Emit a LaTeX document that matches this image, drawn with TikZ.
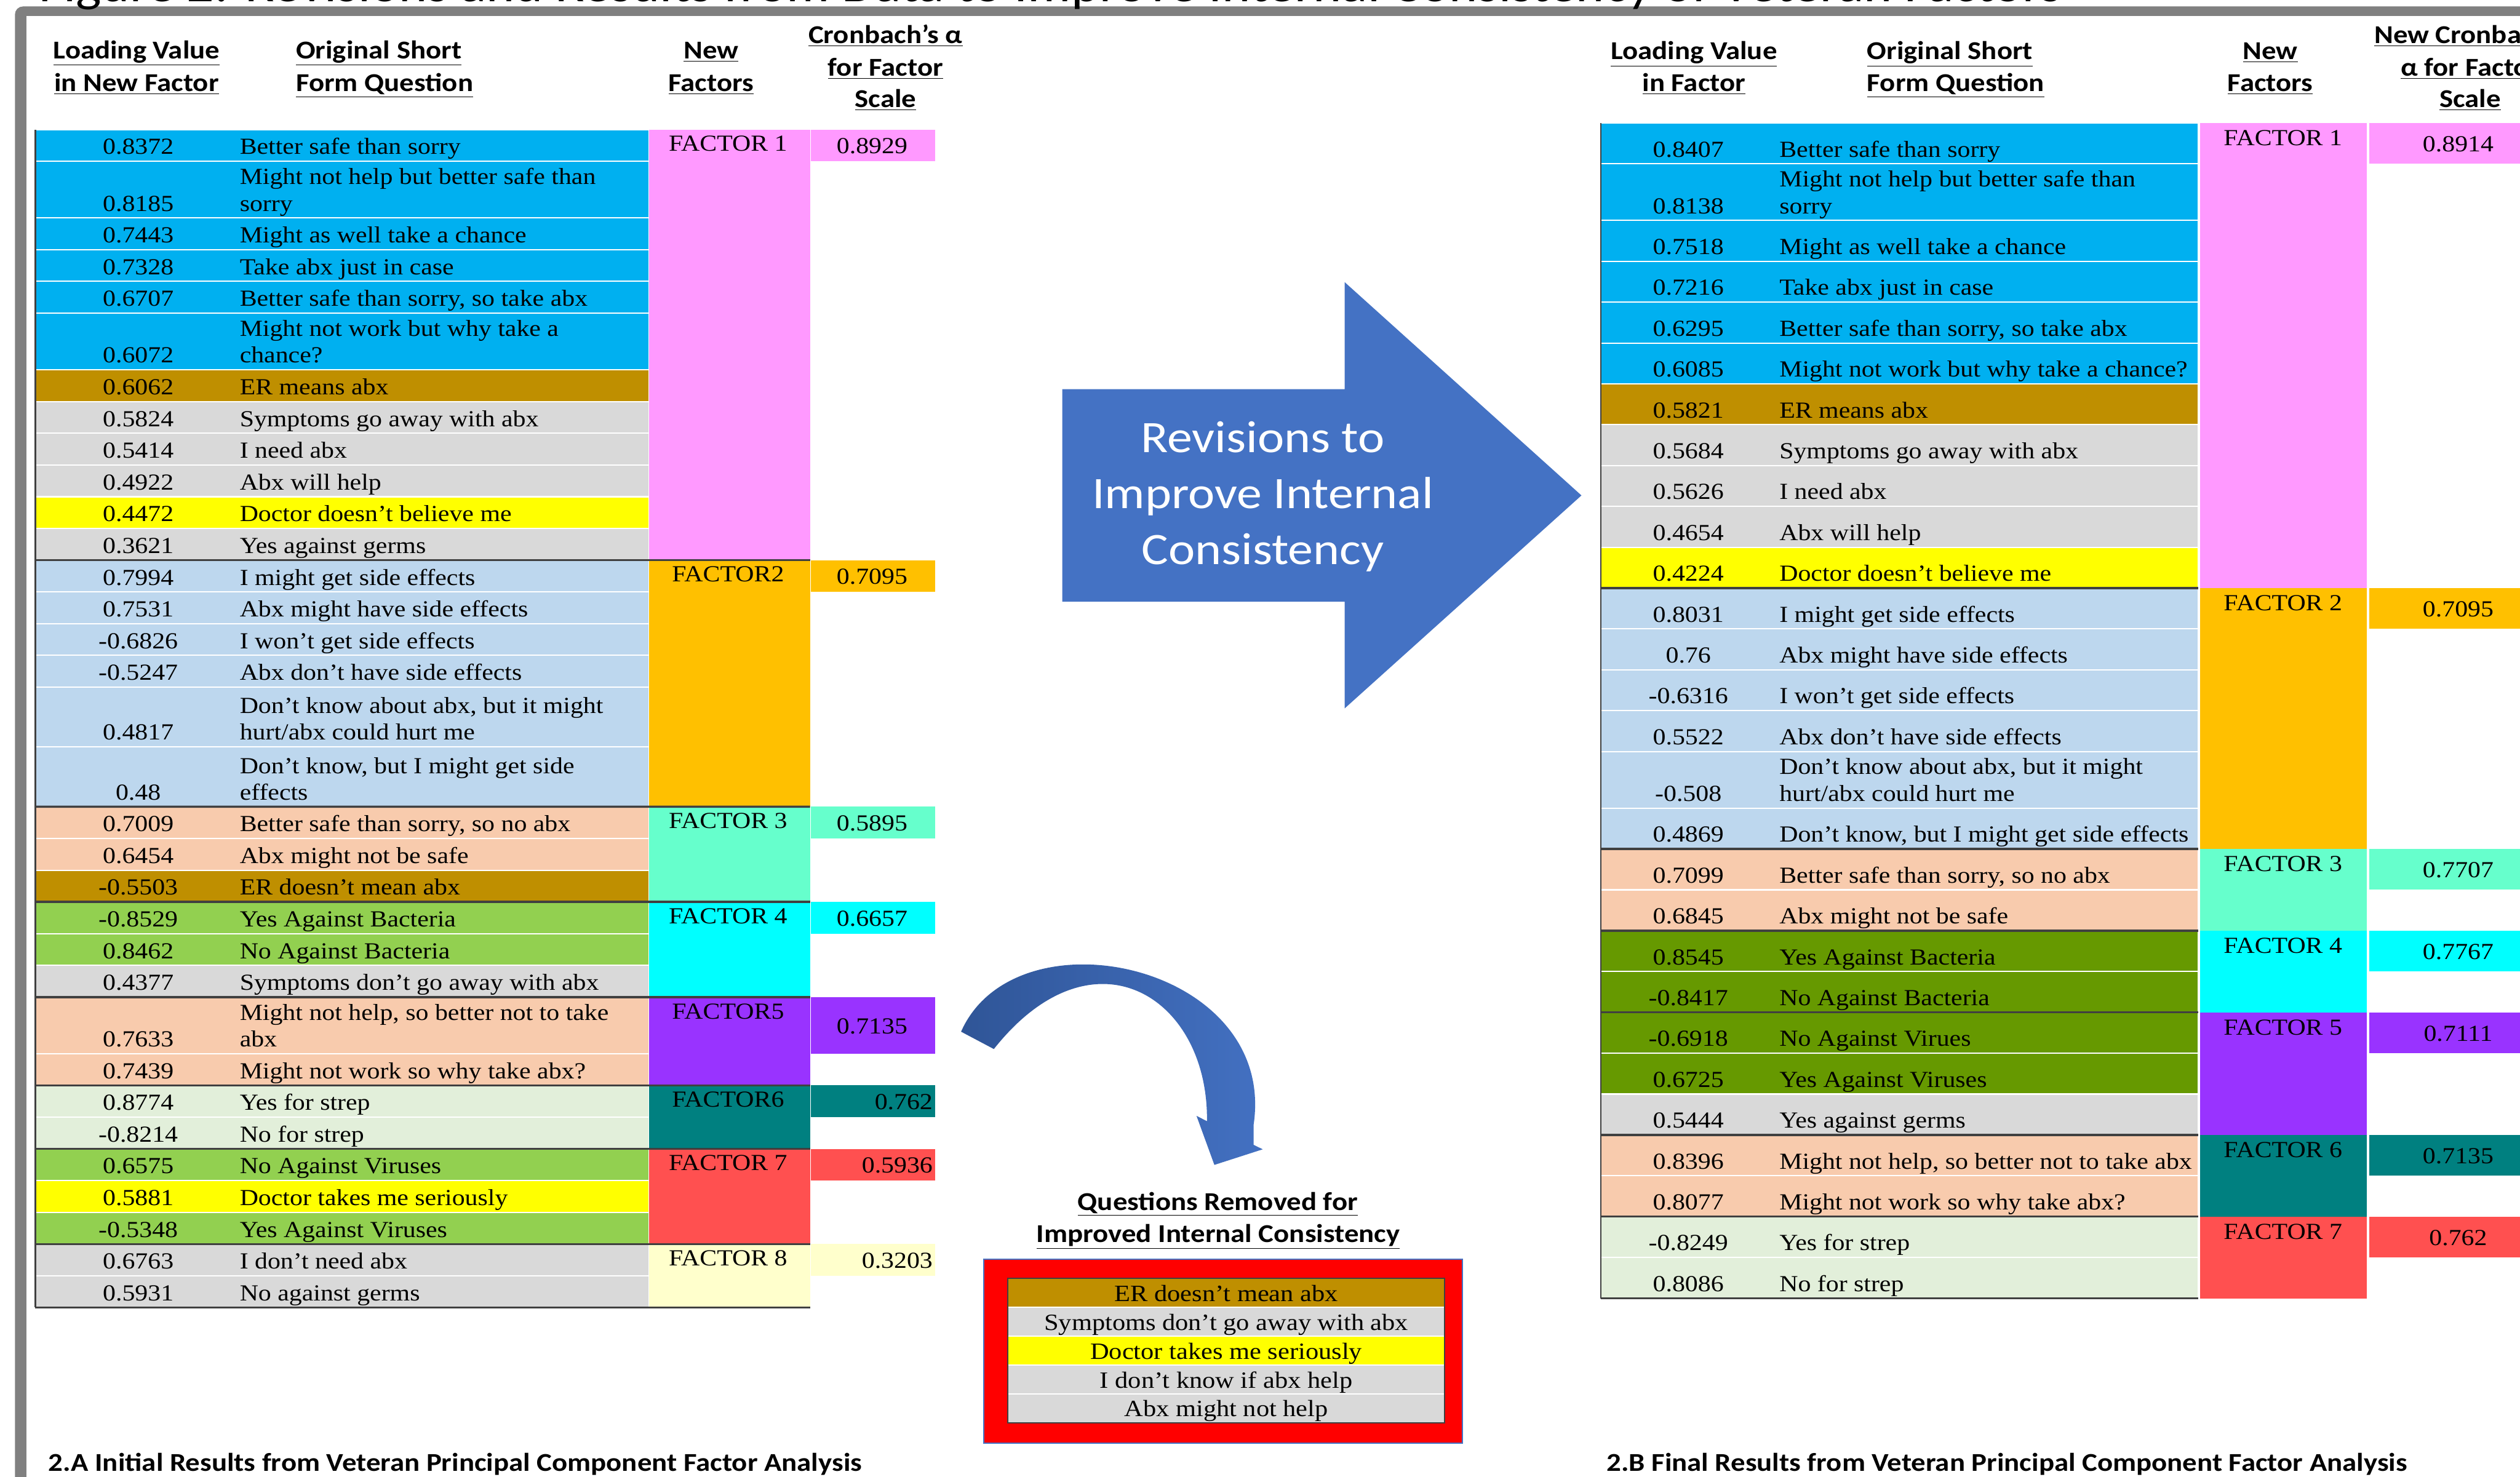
\documentclass[tikz,border=0pt]{standalone}
\usepackage{fontspec}
\setmainfont{Liberation Serif}[FakeStretch=1.12]
\newfontfamily\calib{Carlito}[FakeStretch=1.12]

\definecolor{framegray}{RGB}{128,128,128}
\definecolor{edgegray}{RGB}{64,64,64}
\definecolor{rowblue}{RGB}{0,176,240}
\definecolor{rowgold}{RGB}{191,143,0}
\definecolor{rowgray}{RGB}{217,217,217}
\definecolor{rowyellow}{RGB}{255,255,0}
\definecolor{rowsky}{RGB}{189,215,238}
\definecolor{rowpeach}{RGB}{248,203,173}
\definecolor{rowgreen}{RGB}{146,208,80}
\definecolor{rowolive}{RGB}{102,153,0}
\definecolor{rowmint}{RGB}{226,239,218}
\definecolor{facpink}{RGB}{255,153,255}
\definecolor{facorange}{RGB}{255,192,0}
\definecolor{facaqua}{RGB}{102,255,204}
\definecolor{faccyan}{RGB}{0,255,255}
\definecolor{facpurple}{RGB}{153,51,255}
\definecolor{facteal}{RGB}{0,128,128}
\definecolor{facred}{RGB}{255,80,80}
\definecolor{faccream}{RGB}{255,255,204}
\definecolor{arrowblue}{RGB}{68,114,196}
\definecolor{arrowdark}{RGB}{47,85,151}
\definecolor{boxred}{RGB}{255,0,0}

\begin{document}
\begin{tikzpicture}
        [x=1pt, y=-1pt,
        rowcell/.style={rectangle, inner sep=0pt, outer sep=0pt, anchor=north west, draw=white, line width=0.8pt},
        valtxt/.style={inner sep=0pt, anchor=base, font=\fontsize{14.3}{16.5}\selectfont},
        qtxt/.style={inner sep=0pt, anchor=base west, font=\fontsize{14.3}{16.5}\selectfont},
        factxt/.style={inner sep=0pt, anchor=base, font=\fontsize{14.3}{16.5}\selectfont},
        cronb/.style={inner sep=0pt, font=\fontsize{14.3}{16.5}\selectfont},
        rmtxt/.style={inner sep=0pt, anchor=base, font=\fontsize{14.5}{16.5}\selectfont},
        headtxt/.style={inner sep=0pt, anchor=base, font=\calib\bfseries\fontsize{16}{19}\selectfont},
        grpline/.style={draw=edgegray, line width=1.3pt},
        edge/.style={draw=edgegray, line width=0.8pt}]

        \useasboundingbox (0,0) rectangle (1568,919);
        \clip (0,0) rectangle (1568,919);

        % frame
        \fill[framegray, rounded corners=5pt] (9.3,4) rectangle (1600,1000);
        \fill[white] (16.5,10) rectangle (1600,1000);
        \node[inner sep=0pt, anchor=base west, font=\calib\fontsize{30}{33}\selectfont] (title) at (24,0.8)
            {Figure 2: Revisions and Results from Data to Improve Internal Consistency of Veteran Factors};

        % headers of the first table
        \node[headtxt] (hla1) at (85,36.4) {\underline{Loading Value}};
        \node[headtxt] (hla2) at (85,57) {\underline{in New Factor}};
        \node[headtxt, anchor=base west] (hlb1) at (184,36.4) {\underline{Original Short}};
        \node[headtxt, anchor=base west] (hlb2) at (184,57) {\underline{Form Question}};
        \node[headtxt] (hlc1) at (442.5,36.4) {\underline{New}};
        \node[headtxt] (hlc2) at (442.5,57) {\underline{Factors}};
        \node[headtxt] (hld1) at (551,27) {\underline{Cronbach’s α}};
        \node[headtxt] (hld2) at (551,47.2) {\underline{for Factor}};
        \node[headtxt] (hld3) at (551,66.8) {\underline{Scale}};

        % rows of the first table
        \foreach \ro/\tp/\hh/\col/\val/\qu in {
            1/80.6/19.75/rowblue/0.8372/{Better safe than sorry},
            2/100.35/35.25/rowblue/0.8185/{sorry},
            3/135.6/19.75/rowblue/0.7443/{Might as well take a chance},
            4/155.35/19.75/rowblue/0.7328/{Take abx just in case},
            5/175.1/19.75/rowblue/0.6707/{Better safe than sorry, so take abx},
            6/194.85/35.25/rowblue/0.6072/{chance?},
            7/230.1/19.75/rowgold/0.6062/{ER means abx},
            8/249.85/19.75/rowgray/0.5824/{Symptoms go away with abx},
            9/269.6/19.75/rowgray/0.5414/{I need abx},
            10/289.35/19.75/rowgray/0.4922/{Abx will help},
            11/309.1/19.75/rowyellow/0.4472/{Doctor doesn't believe me},
            12/328.85/19.75/rowgray/0.3621/{Yes against germs},
            13/348.6/19.75/rowsky/0.7994/{I might get side effects},
            14/368.35/19.75/rowsky/0.7531/{Abx might have side effects},
            15/388.1/19.75/rowsky/-0.6826/{I won't get side effects},
            16/407.85/19.75/rowsky/-0.5247/{Abx don't have side effects},
            17/427.6/37.2/rowsky/0.4817/{hurt/abx could hurt me},
            18/464.8/37.2/rowsky/0.48/{effects},
            19/502/19.75/rowpeach/0.7009/{Better safe than sorry, so no abx},
            20/521.75/19.75/rowpeach/0.6454/{Abx might not be safe},
            21/541.5/19.75/rowgold/-0.5503/{ER doesn't mean abx},
            22/561.25/19.75/rowgreen/-0.8529/{Yes Against Bacteria},
            23/581/19.75/rowgreen/0.8462/{No Against Bacteria},
            24/600.75/19.75/rowgray/0.4377/{Symptoms don't go away with abx},
            25/620.5/35.15/rowpeach/0.7633/{abx},
            26/655.65/19.75/rowpeach/0.7439/{Might not work so why take abx?},
            27/675.4/19.75/rowmint/0.8774/{Yes for strep},
            28/695.15/19.75/rowmint/-0.8214/{No for strep},
            29/714.9/19.75/rowgreen/0.6575/{No Against Viruses},
            30/734.65/19.75/rowyellow/0.5881/{Doctor takes me seriously},
            31/754.4/19.75/rowgreen/-0.5348/{Yes Against Viruses},
            32/774.15/19.75/rowgray/0.6763/{I don't need abx},
            33/793.9/19.75/rowgray/0.5931/{No against germs}}
        {
            \node[rowcell, fill=\col, minimum width=382pt, minimum height=\hh*1pt] (lr\ro) at (22,\tp) {};
            \node[valtxt] (lv\ro) at (86,\tp+\hh-4.3) {\val};
            \node[qtxt] (lq\ro) at (149,\tp+\hh-4.3) {\qu};
        }
        \foreach \ro/\qu in {2/{Might not help but better safe than}, 6/{Might not work but why take a},
            17/{Don't know about abx, but it might}, 18/{Don't know, but I might get side},
            25/{Might not help, so better not to take}}
            \node[qtxt] (lqa\ro) at ([yshift=16.5pt]lq\ro.base west) {\qu};

        % factor and alpha columns of the first table
        \foreach \ro/\tp/\hh/\col/\lab in {1/80.6/268/facpink/FACTOR 1, 2/348.6/153.4/facorange/FACTOR2,
            3/502/59.25/facaqua/FACTOR 3, 4/561.25/59.25/faccyan/FACTOR 4, 5/620.5/54.9/facpurple/FACTOR5,
            6/675.4/39.5/facteal/FACTOR6, 7/714.9/59.25/facred/FACTOR 7, 8/774.15/39.5/faccream/FACTOR 8}
        {
            \node[rowcell, draw=none, fill=\col, minimum width=100pt, minimum height=\hh*1pt] (lf\ro) at (404,\tp) {};
            \node[factxt] (lfl\ro) at (453,\tp+13.5) {\lab};
        }
        \foreach \ro/\tp/\hh/\col/\val/\xx/\an in {1/80.6/19.75/facpink/0.8929/542.6/center,
            2/348.6/19.75/facorange/0.7095/542.6/center, 3/502/19.75/facaqua/0.5895/542.6/center,
            4/561.25/19.75/faccyan/0.6657/542.6/center, 5/620.5/35.15/facpurple/0.7135/542.6/center,
            6/675.4/19.75/facteal/0.762/580.5/east, 7/714.9/19.75/facred/0.5936/580.5/east,
            8/774.15/19.75/faccream/0.3203/580.5/east}
        {
            \node[rowcell, draw=none, fill=\col, minimum width=77.5pt, minimum height=\hh*1pt] (la\ro) at (504.5,\tp) {};
            \node[cronb, anchor=\an] (lal\ro) at (\xx,\tp+\hh/2+0.5) {\val};
        }

        % group lines
        \foreach \ro/\fa in {12/1, 18/2, 21/3, 24/4, 26/5, 28/6, 31/7, 33/8}
            \draw[grpline] (lr\ro.south west) -- (lf\fa.south east);
        \draw[edge] (lr1.north west) -- (lr33.south west);

        % headers of the second table
        \node[headtxt] (hra1) at (1054,36.9) {\underline{Loading Value}};
        \node[headtxt] (hra2) at (1054,57) {\underline{in Factor}};
        \node[headtxt, anchor=base west] (hrb1) at (1161.6,36.9) {\underline{Original Short}};
        \node[headtxt, anchor=base west] (hrb2) at (1161.6,57) {\underline{Form Question}};
        \node[headtxt] (hrc1) at (1412.6,36.9) {\underline{New}};
        \node[headtxt] (hrc2) at (1412.6,57) {\underline{Factors}};
        \node[headtxt] (hrd1) at (1537,27) {\underline{New Cronbach’s}};
        \node[headtxt] (hrd2) at (1537,47.2) {\underline{α for Factor}};
        \node[headtxt] (hrd3) at (1537,66.8) {\underline{Scale}};

        % rows of the second table
        \foreach \ro/\tp/\hh/\col/\val/\qu in {
            1/76.5/25.42/rowblue/0.8407/{Better safe than sorry},
            2/101.92/35.25/rowblue/0.8138/{sorry},
            3/137.17/25.42/rowblue/0.7518/{Might as well take a chance},
            4/162.59/25.42/rowblue/0.7216/{Take abx just in case},
            5/188.01/25.42/rowblue/0.6295/{Better safe than sorry, so take abx},
            6/213.43/25.42/rowblue/0.6085/{Might not work but why take a chance?},
            7/238.85/25.42/rowgold/0.5821/{ER means abx},
            8/264.27/25.42/rowgray/0.5684/{Symptoms go away with abx},
            9/289.69/25.42/rowgray/0.5626/{I need abx},
            10/315.11/25.42/rowgray/0.4654/{Abx will help},
            11/340.53/25.42/rowyellow/0.4224/{Doctor doesn't believe me},
            12/365.95/25.42/rowsky/0.8031/{I might get side effects},
            13/391.37/25.42/rowsky/0.76/{Abx might have side effects},
            14/416.79/25.42/rowsky/-0.6316/{I won't get side effects},
            15/442.21/25.42/rowsky/0.5522/{Abx don't have side effects},
            16/467.63/35.25/rowsky/-0.508/{hurt/abx could hurt me},
            17/502.88/25.42/rowsky/0.4869/{Don't know, but I might get side effects},
            18/528.3/25.42/rowpeach/0.7099/{Better safe than sorry, so no abx},
            19/553.72/25.42/rowpeach/0.6845/{Abx might not be safe},
            20/579.14/25.42/rowolive/0.8545/{Yes Against Bacteria},
            21/604.56/25.42/rowolive/-0.8417/{No Against Bacteria},
            22/629.98/25.42/rowolive/-0.6918/{No Against Virues},
            23/655.4/25.42/rowolive/0.6725/{Yes Against Viruses},
            24/680.82/25.42/rowgray/0.5444/{Yes against germs},
            25/706.24/25.42/rowpeach/0.8396/{Might not help, so better not to take abx},
            26/731.66/25.42/rowpeach/0.8077/{Might not work so why take abx?},
            27/757.08/25.42/rowmint/-0.8249/{Yes for strep},
            28/782.5/25.42/rowmint/0.8086/{No for strep}}
        {
            \node[rowcell, fill=\col, minimum width=371.6pt, minimum height=\hh*1pt] (rr\ro) at (996,\tp) {};
            \node[valtxt] (rv\ro) at (1050.5,\tp+\hh-4.3) {\val};
            \node[qtxt] (rq\ro) at (1107,\tp+\hh-4.3) {\qu};
        }
        \foreach \ro/\qu in {2/{Might not help but better safe than}, 16/{Don't know about abx, but it might}}
            \node[qtxt] (rqa\ro) at ([yshift=16.7pt]rq\ro.base west) {\qu};

        % factor and alpha columns of the second table
        \foreach \ro/\tp/\hh/\col/\val in {1/76.5/289.45/facpink/0.8914, 2/365.95/162.35/facorange/0.7095,
            3/528.3/50.84/facaqua/0.7707, 4/579.14/50.84/faccyan/0.7767, 5/629.98/76.26/facpurple/0.7111,
            6/706.24/50.84/facteal/0.7135, 7/757.08/50.84/facred/0.762}
        {
            \node[rowcell, draw=none, fill=\col, minimum width=103.5pt, minimum height=\hh*1pt] (rf\ro) at (1369,\tp) {};
            \node[factxt] (rfl\ro) at (1420.5,\tp+14) {FACTOR \ro};
            \node[rowcell, draw=none, fill=\col, minimum width=111pt, minimum height=25.42pt] (ra\ro) at (1474,\tp) {};
            \node[cronb] (ral\ro) at (1529.5,\tp+13.2) {\val};
        }
        \foreach \ro in {11, 17, 19, 21, 24, 26, 28}
            \draw[grpline] (rr\ro.south west) -- (rr\ro.south east);
        \draw[edge] (rr1.north west) -- (rr28.south west);

        % big arrow
        \fill[arrowblue] (661,242.2) -- (836.7,242.2) -- (836.7,175.6) -- (984,308.3)
            -- (836.7,440.8) -- (836.7,374.4) -- (661,374.4) -- cycle;
        \node[align=center, text=white, inner sep=0pt, font=\calib\fontsize{28}{35}\selectfont] (revtxt)
            at (785.7,309) {Revisions to\\Improve Internal\\Consistency};

        % curved arrow
        \shade[left color=arrowdark, right color=arrowblue] (598,642) .. controls (632,565) and (795,600) .. (780,700)
            -- (780,712.4) -- (785.7,715.2) -- (755.6,724.9) -- (744.5,694.4) -- (751,697.7)
            .. controls (752,620) and (680,575) .. (618.4,652.8) -- cycle;

        % removed questions
        \node[headtxt] (rmh1) at (757.7,753) {\underline{Questions Removed for}};
        \node[headtxt] (rmh2) at (758,773) {\underline{Improved Internal Consistency}};
        \node[rowcell, fill=boxred, draw=arrowblue, minimum width=298pt, minimum height=114.5pt] (rmbox) at (612,783.5) {};
        \foreach \ro/\tp/\col/\qu in {1/795.6/rowgold/{ER doesn’t mean abx}, 2/813.54/rowgray/{Symptoms don’t go away with abx},
            3/831.48/rowyellow/{Doctor takes me seriously}, 4/849.42/rowgray/{I don't know if abx help},
            5/867.36/rowgray/{Abx might not help}}
        {
            \node[rowcell, fill=\col, minimum width=272pt, minimum height=17.94pt] (rm\ro) at (627,\tp) {};
            \node[rmtxt] (rmt\ro) at (763,\tp+14.2) {\qu};
        }
        \draw[edge] (rm1.north west) rectangle (rm5.south east);

        % captions
        \node[headtxt, anchor=base west] (capa) at (30,915.3) {2.A Initial Results from Veteran Principal Component Factor Analysis};
        \node[headtxt, anchor=base west] (capb) at (999.5,915.3) {2.B Final Results from Veteran Principal Component Factor Analysis};

    \end{tikzpicture}
\end{document}
